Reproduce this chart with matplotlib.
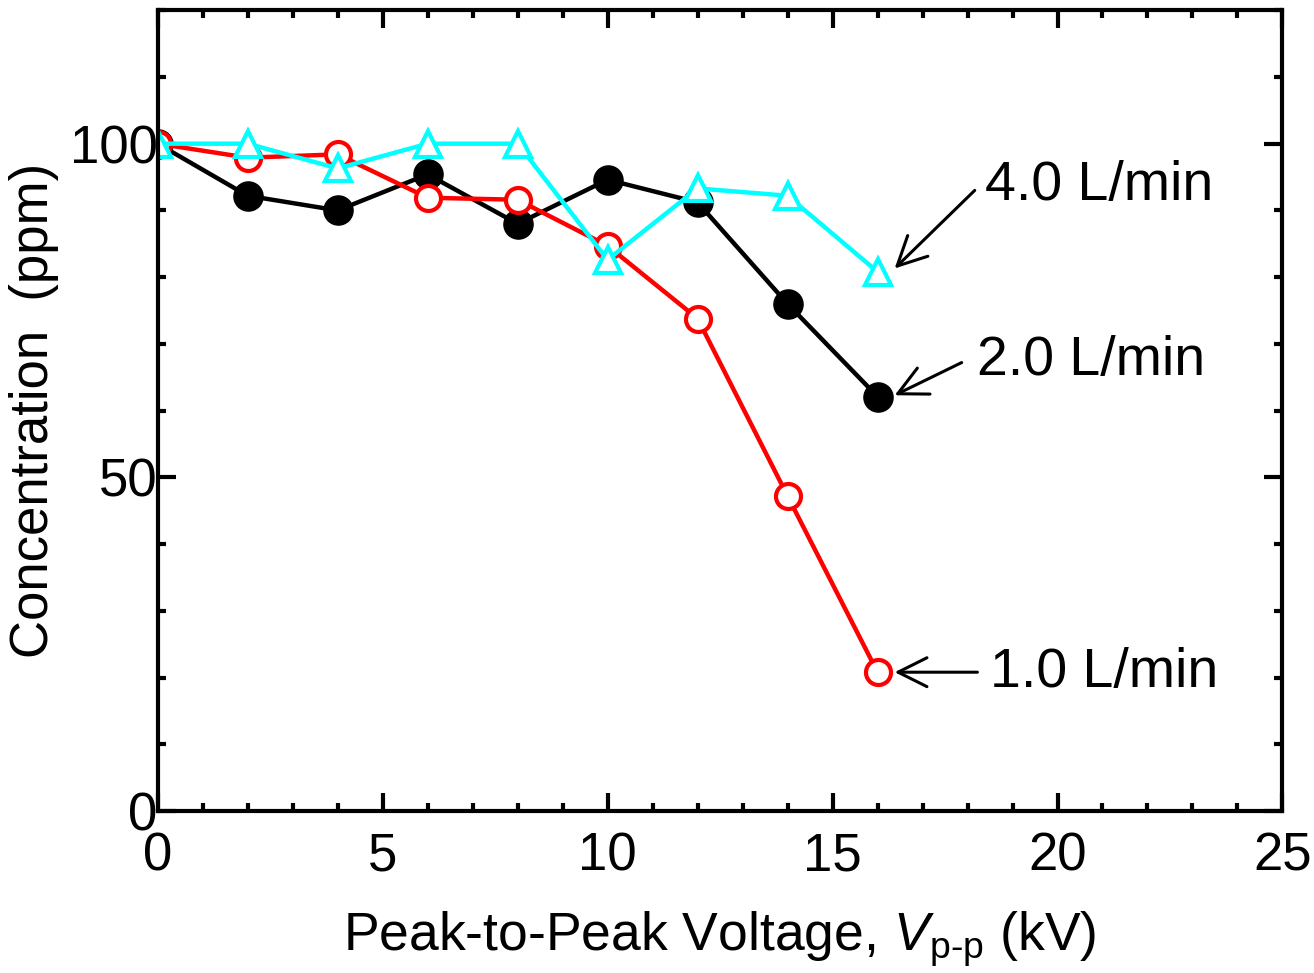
import numpy as np
import matplotlib.pyplot as plt
from matplotlib.ticker import MultipleLocator

plt.rcParams['font.family'] = ['Liberation Sans', 'DejaVu Sans']
plt.rcParams['mathtext.fontset'] = 'custom'
plt.rcParams['mathtext.it'] = 'Liberation Sans:italic'
plt.rcParams['mathtext.rm'] = 'Liberation Sans'

voltage = [0, 2, 4, 6, 8, 10, 12, 14, 16]
flow_1 = [100, 97.9, 98.4, 91.9, 91.6, 84.7, 73.8, 47.2, 20.8]
flow_2 = [100, 92.2, 90.0, 95.4, 88.0, 94.6, 91.2, 76.0, 62.1]
flow_4 = [100, 100, 96.3, 100, 100, 82.6, 93.3, 92.2, 80.8]

fig = plt.figure(figsize=(13.14, 9.73), dpi=100)
ax = fig.add_axes([0.120, 0.1665, 0.856, 0.823])

ax.plot(voltage, flow_2, '-o', color='black', lw=3.2, ms=21, mfc='black', mec='black')
ax.plot(voltage, flow_1, '-o', color='red', lw=3.2, ms=18, mfc='white', mec='red', mew=3)
ax.plot(voltage, flow_4, '-^', color='cyan', lw=3.2, ms=19, mfc='white', mec='cyan', mew=3)

arrow = dict(arrowstyle='->', color='black', lw=2.2, mutation_scale=52, shrinkA=0, shrinkB=0)
ax.annotate('', xy=(16.38, 81.3), xytext=(18.16, 93.0), arrowprops=arrow)
ax.annotate('', xy=(16.38, 62.3), xytext=(17.87, 67.2), arrowprops=arrow)
ax.annotate('', xy=(16.38, 20.8), xytext=(18.22, 20.8), arrowprops=arrow)
ax.text(18.38, 93.7, '4.0 L/min', fontsize=40, va='center', ha='left')
ax.text(18.22, 67.5, '2.0 L/min', fontsize=40, va='center', ha='left')
ax.text(18.49, 20.7, '1.0 L/min', fontsize=40, va='center', ha='left')

ax.set_xlim(0, 25)
ax.set_ylim(0, 120)
ax.xaxis.set_major_locator(MultipleLocator(5))
ax.xaxis.set_minor_locator(MultipleLocator(1))
ax.yaxis.set_major_locator(MultipleLocator(50))
ax.yaxis.set_minor_locator(MultipleLocator(10))
ax.tick_params(which='both', direction='in', top=True, right=True, width=3, labelsize=38)
ax.tick_params(which='major', length=13)
ax.tick_params(which='minor', length=6)
ax.tick_params(axis='x', pad=15)
ax.tick_params(axis='y', pad=0)
for s in ax.spines.values():
    s.set_linewidth(3)

ax.set_xlabel('Peak-to-Peak Voltage, $V$$_{\\rm p\\text{-}p}$ (kV)', fontsize=38.5, labelpad=20)
ax.set_ylabel('Concentration  (ppm)', fontsize=38, labelpad=8)

fig.savefig('out.png', dpi=100)
